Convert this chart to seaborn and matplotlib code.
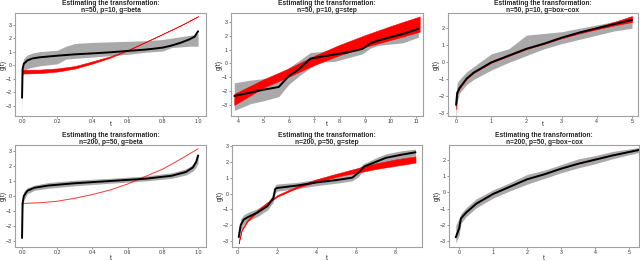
import numpy as np
import pandas as pd
import matplotlib
matplotlib.use("Agg")
import matplotlib.pyplot as plt
import seaborn as sns

sns.set_style("white")
plt.rcParams['font.family'] = ['Liberation Sans', 'DejaVu Sans']

# ---- panel 1: n=50, p=10, g=beta
t1 = [0.0, 0.003, 0.01, 0.03, 0.06, 0.1, 0.2, 0.25, 0.3, 0.4, 0.5, 0.6, 0.7, 0.75, 0.8, 0.85, 0.9, 0.95, 0.98, 1.0]
mean1 = [-2.4, -0.3, 0.1, 0.35, 0.5, 0.58, 0.7, 0.75, 0.8, 0.87, 0.95, 1.05, 1.15, 1.22, 1.3, 1.45, 1.65, 1.9, 2.1, 2.5]
lo1 = [-3.5, -0.8, -0.5, -0.25, -0.15, -0.05, 0.1, 0.45, 0.5, 0.6, 0.7, 0.8, 0.95, 1.0, 1.05, 1.3, 1.35, 1.4, 1.4, 1.4]
hi1 = [-1.5, 0.2, 0.5, 0.75, 0.9, 1.0, 1.1, 1.4, 1.6, 1.68, 1.72, 1.76, 1.8, 1.85, 1.9, 2.0, 2.1, 2.2, 2.25, 2.35]
rt1 = [0.0, 0.1, 0.2, 0.3, 0.4, 0.5, 0.6, 0.7, 0.8, 0.9, 1.0]
rlo1 = [-0.62, -0.58, -0.47, -0.25, 0.12, 0.55, 1.08, 1.68, 2.3, 2.92, 3.6]
rhi1 = [-0.35, -0.33, -0.24, -0.07, 0.28, 0.65, 1.12, 1.72, 2.32, 2.94, 3.62]

# ---- panel 2: n=50, p=10, g=step
t2 = [3.85, 4.5, 5.0, 5.6, 6.0, 6.4, 6.85, 7.3, 7.8, 8.3, 8.9, 9.2, 9.5, 10.0, 10.5, 11.1]
mean2 = [-2.35, -2.1, -1.9, -1.7, -0.9, -0.4, 0.35, 0.5, 0.65, 0.8, 1.05, 1.45, 1.65, 1.9, 2.15, 2.5]
lo2 = [-3.4, -2.9, -2.7, -2.4, -1.5, -0.9, -0.3, 0.1, 0.15, 0.4, 0.7, 1.1, 1.3, 1.4, 1.5, 1.9]
hi2 = [-1.4, -1.2, -1.1, -0.9, -0.3, 0.2, 0.8, 0.85, 1.1, 1.3, 1.4, 1.6, 1.75, 1.9, 2.1, 2.4]
rt2 = [3.85, 5.0, 6.0, 7.0, 8.0, 9.0, 10.0, 11.15]
rlo2 = [-3.0, -1.75, -0.95, -0.1, 0.6, 1.2, 1.7, 2.3]
rhi2 = [-2.2, -1.15, -0.35, 0.55, 1.35, 2.05, 2.7, 3.4]

# ---- panel 3: n=50, p=10, g=box-cox
t3 = [0.0, 0.03, 0.1, 0.3, 0.5, 1.0, 1.5, 2.0, 2.5, 3.0, 3.5, 4.0, 4.5, 5.0]
mean3 = [-2.5, -1.8, -1.5, -0.95, -0.6, 0.0, 0.4, 0.8, 1.1, 1.45, 1.75, 2.0, 2.25, 2.5]
lo3 = [-3.5, -2.3, -1.8, -1.3, -1.0, -0.45, 0.0, 0.4, 0.8, 1.1, 1.35, 1.6, 1.85, 2.0]
hi3 = [-1.8, -1.2, -1.0, -0.55, -0.25, 0.5, 0.8, 1.6, 1.7, 1.8, 2.0, 2.2, 2.4, 2.6]
rt3 = [0.0, 0.03, 0.1, 0.3, 0.5, 1.0, 1.5, 2.0, 2.5, 3.0, 3.5, 4.0, 4.5, 5.0]
rlo3 = [-2.75, -1.85, -1.52, -0.97, -0.62, -0.02, 0.38, 0.78, 1.08, 1.42, 1.7, 1.95, 2.17, 2.38]
rhi3 = [-2.25, -1.75, -1.48, -0.93, -0.58, 0.02, 0.42, 0.82, 1.12, 1.5, 1.8, 2.08, 2.38, 2.72]

# ---- panel 4: n=200, p=50, g=beta
t4 = [0.0, 0.003, 0.01, 0.03, 0.07, 0.15, 0.3, 0.5, 0.7, 0.85, 0.93, 0.97, 0.99, 1.0]
mean4 = [-2.8, -0.5, 0.0, 0.35, 0.55, 0.7, 0.85, 1.0, 1.15, 1.35, 1.6, 1.9, 2.3, 2.7]
lo4 = [-3.3, -0.9, -0.3, 0.15, 0.38, 0.52, 0.68, 0.85, 1.0, 1.18, 1.4, 1.65, 1.95, 2.2]
hi4 = [-2.2, -0.1, 0.3, 0.55, 0.72, 0.9, 1.05, 1.18, 1.33, 1.55, 1.8, 2.1, 2.45, 2.8]
rt4 = [0.0, 0.1, 0.2, 0.3, 0.4, 0.5, 0.6, 0.7, 0.8, 0.9, 1.0]
red4 = [-0.5, -0.45, -0.35, -0.15, 0.1, 0.4, 0.8, 1.3, 1.8, 2.45, 3.15]

# ---- panel 5: n=200, p=50, g=step
t5 = [0.05, 0.15, 0.3, 0.5, 1.0, 1.5, 1.8, 1.9, 2.0, 3.0, 4.0, 5.0, 5.8, 6.1, 6.4, 7.0, 7.5, 8.3, 9.0]
mean5 = [-2.75, -2.0, -1.65, -1.5, -1.2, -0.8, -0.3, 0.3, 0.35, 0.5, 0.7, 0.85, 1.0, 1.3, 1.7, 2.0, 2.25, 2.45, 2.6]
lo5 = [-3.1, -2.3, -1.95, -1.75, -1.45, -1.05, -0.55, 0.05, 0.15, 0.3, 0.5, 0.65, 0.8, 1.05, 1.5, 1.8, 2.0, 2.2, 2.4]
hi5 = [-2.3, -1.6, -1.35, -1.2, -0.95, -0.55, -0.05, 0.55, 0.6, 0.7, 0.9, 1.05, 1.2, 1.6, 1.9, 2.25, 2.5, 2.7, 2.8]
rt5 = [0.05, 0.2, 0.5, 1.0, 1.5, 2.0, 3.0, 4.0, 5.0, 6.0, 7.0, 8.0, 9.0]
rlo5 = [-3.15, -2.35, -1.75, -1.15, -0.65, -0.2, 0.35, 0.75, 1.05, 1.3, 1.55, 1.75, 1.95]
rhi5 = [-3.05, -2.25, -1.65, -1.05, -0.55, -0.1, 0.45, 0.9, 1.25, 1.58, 1.9, 2.15, 2.35]

# ---- panel 6: n=200, p=50, g=box-cox
t6 = [-0.1, 0.0, 0.05, 0.2, 0.5, 1.0, 1.5, 2.0, 2.5, 3.0, 3.5, 4.0, 4.5, 5.3]
mean6 = [-2.75, -2.2, -1.6, -1.25, -0.7, -0.1, 0.35, 0.8, 1.1, 1.45, 1.75, 2.0, 2.25, 2.6]
lo6 = [-3.1, -2.6, -1.9, -1.5, -0.95, -0.35, 0.1, 0.5, 0.85, 1.2, 1.5, 1.75, 2.05, 2.45]
hi6 = [-2.0, -1.6, -1.3, -0.95, -0.4, 0.15, 0.6, 1.1, 1.35, 1.7, 2.05, 2.25, 2.5, 2.75]
rt6 = [-0.1, 0.0, 0.05, 0.2, 0.5, 1.0, 1.5, 2.0, 2.5, 3.0, 3.5, 4.0, 4.5, 5.3]
red6 = [-2.75, -2.15, -1.6, -1.25, -0.7, -0.1, 0.35, 0.8, 1.1, 1.45, 1.75, 2.02, 2.27, 2.62]

titles = ["n=50, p=10, g=beta", "n=50, p=10, g=step", "n=50, p=10, g=box\u2212cox",
          "n=200, p=50, g=beta", "n=200, p=50, g=step", "n=200, p=50, g=box\u2212cox"]

fig = plt.figure(figsize=(6.4, 2.61), dpi=100)
W, H = 640.0, 261.0
boxes = [(15, 13, 191, 103), (231, 13, 192, 103), (448, 13, 190, 103),
         (15, 145, 191, 102), (232, 145, 190, 102), (449, 145, 190, 102)]
lims = [((-0.04, 1.045), (-3.75, 3.85), [0, 0.2, 0.4, 0.6, 0.8, 1.0], [-3, -2, -1, 0, 1, 2, 3]),
        ((3.72, 11.28), (-3.8, 3.65), [4, 5, 6, 7, 8, 9, 10, 11], [-3, -2, -1, 0, 1, 2, 3]),
        ((-0.23, 5.17), (-3.15, 2.9), [0, 1, 2, 3, 4, 5], [-3, -2, -1, 0, 1, 2]),
        ((-0.04, 1.045), (-3.4, 3.4), [0, 0.2, 0.4, 0.6, 0.8, 1.0], [-3, -2, -1, 0, 1, 2, 3]),
        ((-0.29, 9.33), (-3.375, 3.06), [0, 2, 4, 6, 8], [-3, -2, -1, 0, 1, 2, 3]),
        ((-0.3, 5.29), (-3.35, 2.9), [0, 1, 2, 3, 4, 5], [-3, -2, -1, 0, 1, 2])]

gray = "#a9a9a9"
panels = [
    (t1, mean1, lo1, hi1, rt1, rlo1, rhi1),
    (t2, mean2, lo2, hi2, rt2, rlo2, rhi2),
    (t3, mean3, lo3, hi3, rt3, rlo3, rhi3),
    (t4, mean4, lo4, hi4, rt4, red4, red4),
    (t5, mean5, lo5, hi5, rt5, rlo5, rhi5),
    (t6, mean6, lo6, hi6, rt6, red6, red6),
]

for i, (t, m, lo, hi, rt, rlo, rhi) in enumerate(panels):
    x0, y0, w, h = boxes[i]
    ax = fig.add_axes([x0 / W, 1 - (y0 + h) / H, w / W, h / H])
    ax.fill_between(t, lo, hi, color=gray, lw=0)
    if rlo is rhi:
        sns.lineplot(x=rt, y=rlo, ax=ax, color="red", lw=0.7, alpha=0.8, estimator=None)
    else:
        ax.fill_between(rt, rlo, rhi, color="red", lw=0.4, edgecolor="red")
    sns.lineplot(x=t, y=m, ax=ax, color="black", lw=1.4, estimator=None)
    xl, yl, xt, yt = lims[i]
    ax.set_xlim(xl)
    ax.set_ylim(yl)
    ax.set_xticks(xt)
    ax.set_yticks(yt)
    if xt[1] == 0.2:
        ax.set_xticklabels(["0.0", "0.2", "0.4", "0.6", "0.8", "1.0"])
    else:
        ax.set_xticklabels([str(v) for v in xt])
    ax.set_yticklabels([str(v).replace("-", "\u2212") for v in yt])
    ax.tick_params(labelsize=3.8, length=1.5, width=0.5, color="#666666", pad=0.8,
                   bottom=True, left=True, labelcolor="#333333")
    for s in ax.spines.values():
        s.set_color("#a0a0a0")
        s.set_linewidth(0.8)
    ax.set_xlabel("t", fontsize=4.8)
    ax.set_ylabel("g(t)", fontsize=4.8)
    ax.yaxis.set_label_coords(-8.0 / w, 0.5)
    if i < 3:
        ax.xaxis.set_label_coords(0.5, -5.0 / h)
    else:
        ax.xaxis.set_label_coords(0.5, -8.0 / h)
    ax.set_title("Estimating the transformation:\n" + titles[i], fontsize=4.8,
                 fontweight="bold", pad=0.5, linespacing=1.0)

fig.savefig("out.png", dpi=100)
